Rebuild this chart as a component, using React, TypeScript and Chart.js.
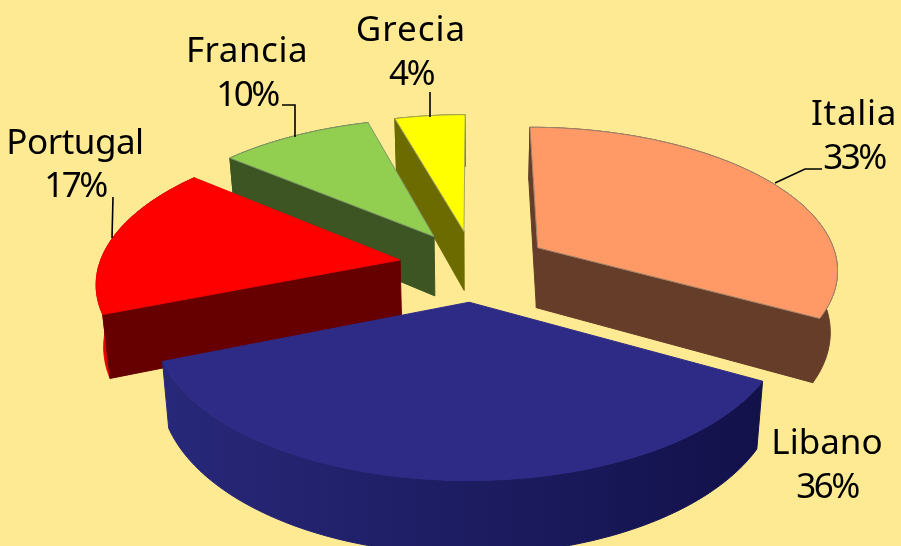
import React, { useEffect, useRef } from "react";
import { Chart, registerables } from "chart.js";

Chart.register(...registerables);

const categories = ["Italia", "Libano", "Portugal", "Francia", "Grecia"];
const shares = [33, 36, 17, 9.6, 4.4];
const topColors = ["#FF9966", "#2E2B87", "#FF0000", "#92CF50", "#FFFF00"];
const edgeColors = ["#A08570", "#2E2B87", "#F00000", "#7F9A68", "#A8A860"];
const wallColors = ["#663D29", "#1A1A55", "#660000", "#3C5523", "#6B6B00"];
const rimLeftColors = ["#6B4029", "#28287A", "#F00000", "#3C5523", "#6B6B00"];
const rimRightColors = ["#663D29", "#12114A", "#660000", "#3C5523", "#6B6B00"];

const BG = "#FEEA93";
const FONT = '35px "Noto Sans"';

const scene = {
  cx: 474, cy: 265.5, rx: 301, ry: 142, persp: 0.14,
  explode: 0.25, depth: 61, bottomScale: 0.98,
};

const labelPlaces = [
  { x: 854, y1: 125, y2: 169, gap: 0.7 },
  { x: 827, y1: 454, y2: 498, gap: 0 },
  { x: 75, y1: 154, y2: 197, gap: -0.5 },
  { x: 247, y1: 62, y2: 106, gap: 0.5 },
  { x: 411, y1: 41, y2: 85, gap: 1 },
];
const PERCENT_GAP = -2.5;
const leaders = [
  [[822, 169], [805, 169], [775, 183]],
  [],
  [[113, 197], [112, 238]],
  [[282, 105], [295, 105], [295, 137]],
  [[430, 92], [430, 117]],
];

function project(X: number, Z: number, low: boolean) {
  const s = 1 / (1 + scene.persp * Z);
  const x = scene.rx * X * s;
  const y = scene.cy - scene.ry * Z * s;
  return low
    ? { x: scene.cx + x * scene.bottomScale, y: y + scene.depth * s }
    : { x: scene.cx + x, y };
}

const pie3d = {
  id: "pie3d",
  beforeDraw(chart: any) {
    const { ctx, width, height } = chart;
    ctx.save();
    ctx.fillStyle = BG;
    ctx.fillRect(0, 0, width, height);
    ctx.restore();
  },
  beforeDatasetDraw(chart: any) {
    const ctx = chart.ctx;
    const arcs = chart.getDatasetMeta(0).data.map((el: any, i: number) => {
      const a0 = el.startAngle + Math.PI / 2;
      const a1 = el.endAngle + Math.PI / 2;
      const mid = (a0 + a1) / 2;
      return {
        i, a0, a1, el,
        ox: Math.sin(mid) * scene.explode,
        oz: Math.cos(mid) * scene.explode,
      };
    });
    arcs.sort((p: any, q: any) => q.oz - p.oz);
    ctx.save();
    ctx.lineJoin = "round";
    for (const s of arcs) {
      const n = 70;
      const ring = (low: boolean) => {
        const pts = [];
        for (let k = 0; k <= n; k++) {
          const a = s.a0 + ((s.a1 - s.a0) * k) / n;
          pts.push(project(s.ox + Math.sin(a), s.oz + Math.cos(a), low));
        }
        return pts;
      };
      const top = ring(false);
      const bot = ring(true);
      const apexT = project(s.ox, s.oz, false);
      const apexB = project(s.ox, s.oz, true);
      const poly = (pts: any[], fill: any, stroke?: string) => {
        ctx.beginPath();
        pts.forEach((p, k) => (k ? ctx.lineTo(p.x, p.y) : ctx.moveTo(p.x, p.y)));
        ctx.closePath();
        ctx.fillStyle = fill;
        ctx.fill();
        ctx.strokeStyle = stroke || fill;
        ctx.lineWidth = 1;
        ctx.stroke();
      };
      const xs = top.concat(bot).map((p: any) => p.x);
      const g = ctx.createLinearGradient(Math.min(...xs), 0, Math.max(...xs), 0);
      g.addColorStop(0, rimLeftColors[s.i]);
      g.addColorStop(1, rimRightColors[s.i]);
      poly(top.concat(bot.slice().reverse()), g);
      if (Math.sin(s.a0) < 1e-6) poly([apexT, top[0], bot[0], apexB], wallColors[s.i]);
      if (Math.sin(s.a1) > 1e-6) poly([apexT, top[n], bot[n], apexB], wallColors[s.i]);
      poly([apexT, ...top], s.el.options.backgroundColor, edgeColors[s.i]);
    }
    ctx.restore();
    return false;
  },
  afterDraw(chart: any) {
    const ctx = chart.ctx;
    ctx.save();
    ctx.strokeStyle = "#000";
    ctx.lineWidth = 1.6;
    leaders.forEach((pts) => {
      if (!pts.length) return;
      ctx.beginPath();
      pts.forEach((p, k) => (k ? ctx.lineTo(p[0], p[1]) : ctx.moveTo(p[0], p[1])));
      ctx.stroke();
    });
    ctx.fillStyle = "#000";
    ctx.font = FONT;
    ctx.textAlign = "center";
    ctx.textBaseline = "alphabetic";
    categories.forEach((c, i) => {
      const l = labelPlaces[i];
      ctx.letterSpacing = l.gap + "px";
      ctx.fillText(c, l.x, l.y1);
      ctx.letterSpacing = PERCENT_GAP + "px";
      ctx.fillText(Math.round(shares[i]) + "%", l.x, l.y2);
    });
    ctx.restore();
  },
};

export default function App() {
  const ref = useRef<HTMLCanvasElement>(null);
  useEffect(() => {
    document.body.style.margin = "0";
    const chart = new Chart(ref.current as any, {
      type: "pie",
      data: {
        labels: categories,
        datasets: [{ data: shares, backgroundColor: topColors, borderWidth: 0 }],
      },
      options: {
        animation: false,
        responsive: false,
        plugins: { legend: { display: false }, tooltip: { enabled: false } },
      },
      plugins: [pie3d],
    } as any);
    return () => chart.destroy();
  }, []);
  return <canvas ref={ref} width={901} height={546} style={{ display: "block" }} />;
}
